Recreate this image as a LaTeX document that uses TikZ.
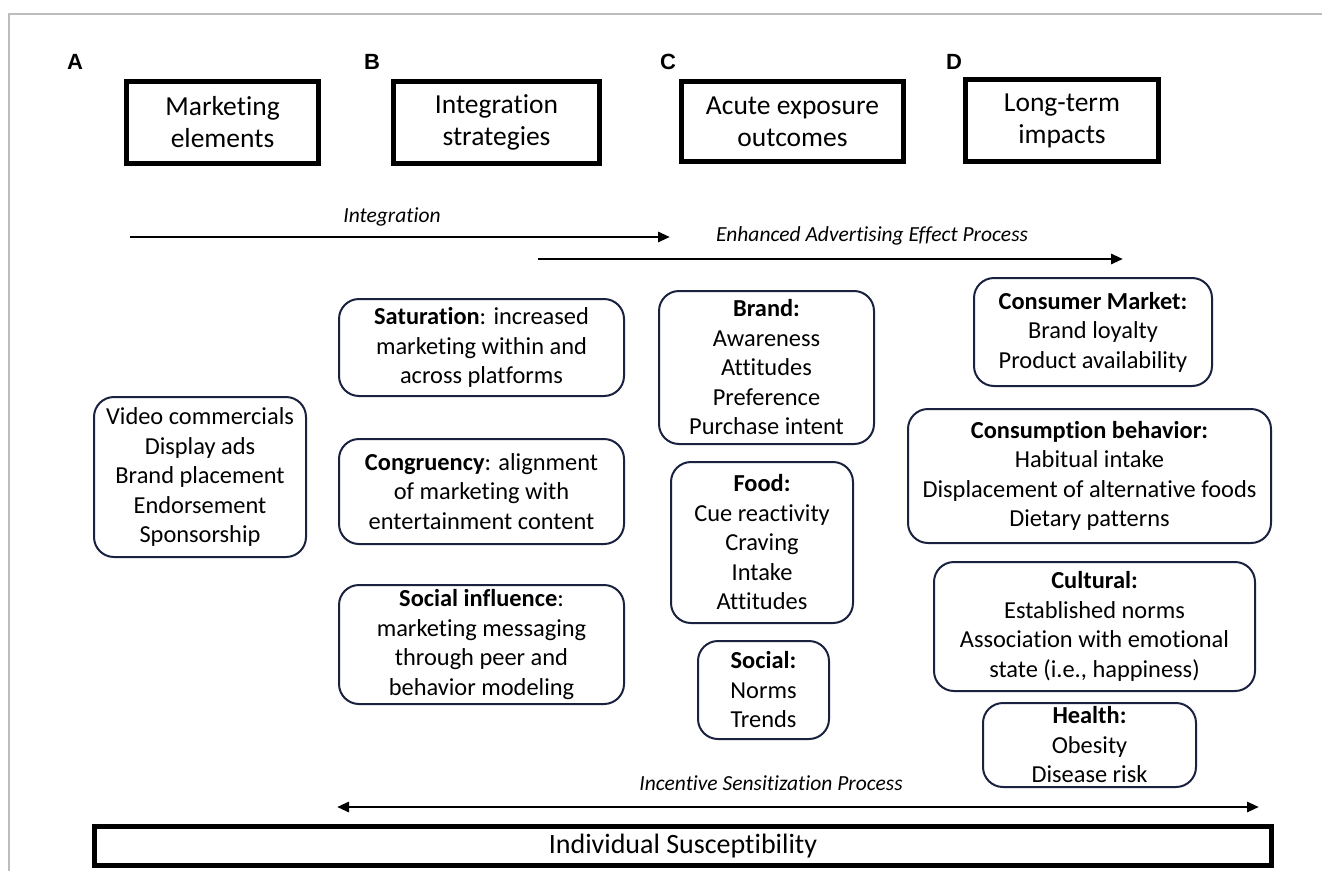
\documentclass[tikz,border=0pt]{standalone}
\usepackage{fontspec}
\setmainfont{Carlito}[Ligatures=NoCommon]
\newfontfamily\labfont{Liberation Sans}
\usetikzlibrary{arrows.meta}
\definecolor{navy}{HTML}{1B2240}
\definecolor{framegray}{HTML}{BDBDBD}
\tikzset{
  hdr/.style={draw=black, line width=5pt, align=center, inner sep=0pt,
    font=\fontsize{27.5}{32}\selectfont},
  rbox/.style={draw=navy, line width=2pt, rounded corners=20pt, align=center, inner sep=0pt,
    font=\fontsize{24.4}{29.5}\selectfont},
  panel/.style={font=\labfont\bfseries\fontsize{22}{24}\selectfont, inner sep=0pt},
  proc/.style={font=\itshape\fontsize{21.5}{24}\selectfont, inner sep=0pt},
  arr/.style={line width=2.8pt, -{Triangle[length=12pt,width=10pt]}},
  darr/.style={line width=2.8pt, {Triangle[length=12pt,width=10pt]}-{Triangle[length=12pt,width=10pt]}},
}
\begin{document}
\begin{tikzpicture}[x=1pt,y=-1pt]
\useasboundingbox (0,0) rectangle (1322,870);
\clip (0,0) rectangle (1322,870);
% frame
\draw[framegray, line width=1.5pt] (9,872) -- (9,14) -- (1324,14);
% panel letters
\node[panel] (la) at (75,62) {A};
\node[panel] (lb) at (372,62) {B};
\node[panel] (lc) at (668,62) {C};
\node[panel] (ld) at (954,62) {D};
% header boxes
\node[hdr, minimum width=192pt, minimum height=82pt] (h1) at (222.5,122.5) {Marketing\\elements};
\node[hdr, minimum width=206pt, minimum height=82pt] (h2) at (496.5,122.5) {Integration\\strategies};
\node[hdr, minimum width=222pt, minimum height=80pt] (h3) at (792.5,121.5) {Acute exposure\\outcomes};
\node[hdr, minimum width=193pt, minimum height=82pt] (h4) at (1062,120.5) {Long-term\\impacts};
% process arrows
\node[proc] (tint) at (392,217) {Integration};
\coordinate (i1) at (130,237);
\coordinate (i2) at (670,237);
\draw[arr] (i1) -- (i2);
\node[proc] (tenh) at (872,236) {Enhanced Advertising Effect Process};
\coordinate (e1) at (538,259);
\coordinate (e2) at (1123,259);
\draw[arr] (e1) -- (e2);
% column A
\node[rbox, minimum width=212pt, minimum height=160pt] (elem) at (200,477)
  {Video commercials\\Display ads\\Brand placement\\Endorsement\\Sponsorship};
% column B
\node[rbox, minimum width=285pt, minimum height=97pt] (sat) at (481.5,347.5)
  {\textbf{Saturation}: increased\\marketing within and\\across platforms};
\node[rbox, minimum width=285pt, minimum height=105pt] (cong) at (481.5,491.5)
  {\textbf{Congruency}: alignment\\of marketing with\\entertainment content};
\node[rbox, minimum width=285pt, minimum height=119pt] (soc) at (481.5,644.5)
  {\textbf{Social influence}:\\marketing messaging\\through peer and\\behavior modeling};
% column C
\node[rbox, minimum width=215pt, minimum height=153pt] (brand) at (766.5,367.5)
  {\textbf{Brand:}\\Awareness\\Attitudes\\Preference\\Purchase intent};
\node[rbox, minimum width=182pt, minimum height=161pt] (food) at (762,542.5)
  {\textbf{Food:}\\Cue reactivity\\Craving\\Intake\\Attitudes};
\node[rbox, minimum width=131pt, minimum height=98pt] (social) at (763.5,690)
  {\textbf{Social:}\\Norms\\Trends};
% column D
\node[rbox, minimum width=238pt, minimum height=108pt] (cmkt) at (1093,332)
  {\textbf{Consumer Market:}\\Brand loyalty\\Product availability};
\node[rbox, minimum width=363pt, minimum height=134pt] (cbeh) at (1089.5,476)
  {\textbf{Consumption behavior:}\\Habitual intake\\Displacement of alternative foods\\Dietary patterns};
\node[rbox, minimum width=321pt, minimum height=129pt] (cult) at (1094.5,626.5)
  {\textbf{Cultural:}\\Established norms\\Association with emotional\\state (i.e., happiness)};
\node[rbox, minimum width=213pt, minimum height=84pt] (health) at (1089.5,745)
  {\textbf{Health:}\\Obesity\\Disease risk};
% incentive sensitization
\node[proc] (tinc) at (771,783) {Incentive Sensitization Process};
\coordinate (s1) at (337,807);
\coordinate (s2) at (1259,807);
\draw[darr] (s1) -- (s2);
% individual susceptibility
\node[draw=black, line width=5pt, minimum width=1177pt, minimum height=39pt, inner sep=0pt,
  font=\fontsize{28}{30}\selectfont] (indiv) at (683,846) {Individual Susceptibility};
\end{tikzpicture}
\end{document}
